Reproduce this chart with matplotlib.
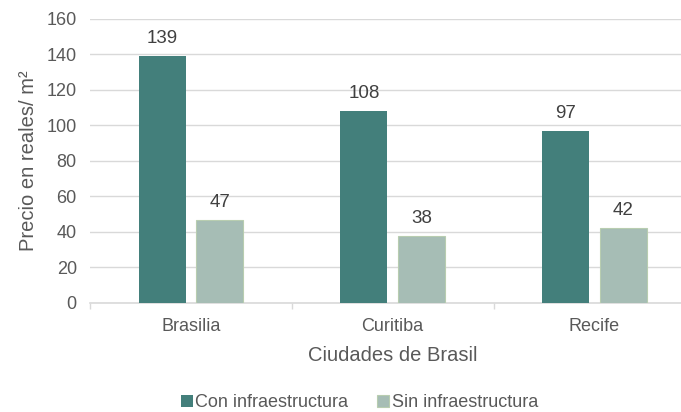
import matplotlib
matplotlib.use("Agg")
import matplotlib.pyplot as plt
import numpy as np

plt.rcParams['font.family'] = ['Liberation Sans', 'DejaVu Sans']

ciudades = ["Brasilia", "Curitiba", "Recife"]
con_infra = [139, 108, 97]
sin_infra = [47, 38, 42]
series_names = ["Con infraestructura", "Sin infraestructura"]
y_ticks = [0, 20, 40, 60, 80, 100, 120, 140, 160]

color_con = "#437F7B"
color_sin = "#A6BDB5"
edge_sin = "#B8CDB0"
grid_color = "#D9D9D9"
text_gray = "#595959"

fig = plt.figure(figsize=(6.81, 4.12), dpi=100)
ax = fig.add_axes([0.1322, 0.2646, 0.8888, 0.6893])

x = np.arange(len(ciudades))
w = 0.233
off = 0.1425
b1 = ax.bar(x - off, con_infra, w, color=color_con, zorder=3, label=series_names[0])
b2 = ax.bar(x + off, sin_infra, w, color=color_sin, edgecolor=edge_sin, linewidth=0.8,
            zorder=3, label=series_names[1])

for bars, vals in ((b1, con_infra), (b2, sin_infra)):
    for r, v in zip(bars, vals):
        ax.annotate(f"{v}", (r.get_x() + r.get_width() / 2, v), xytext=(0, 6.5),
                    textcoords="offset points", ha="center", va="bottom",
                    fontsize=13.5, color="#404040")

ax.set_xlim(-0.5, 2.5)
ax.set_ylim(0, 160)
ax.set_yticks(y_ticks)
ax.set_xticks(x)
ax.set_xticklabels(ciudades)
ax.set_xticks([-0.5, 0.5, 1.5, 2.5], minor=True)
ax.tick_params(axis="x", which="major", length=0, pad=10.5, labelsize=13, labelcolor=text_gray)
ax.tick_params(axis="x", which="minor", length=4, color=grid_color, width=1)
ax.tick_params(axis="y", length=0, pad=9.5, labelsize=13, labelcolor=text_gray)

ax.grid(axis="y", color=grid_color, linewidth=1, zorder=0)
for s in ("top", "right", "left"):
    ax.spines[s].set_visible(False)
ax.spines["bottom"].set_color(grid_color)
ax.spines["bottom"].set_linewidth(1.2)

ax.set_xlabel("Ciudades de Brasil", fontsize=14.5, color=text_gray, labelpad=8)
ax.set_ylabel("Precio en reales/ m²", fontsize=14.5, color=text_gray, labelpad=6)

fig.legend(handles=[b1, b2], labels=series_names, loc="lower center",
           bbox_to_anchor=(0.528, -0.037), ncol=2, frameon=False,
           fontsize=13, handlelength=0.65, handleheight=0.65, handletextpad=0.15,
           columnspacing=1.6, labelcolor=text_gray)

fig.savefig("out.png", dpi=100)
